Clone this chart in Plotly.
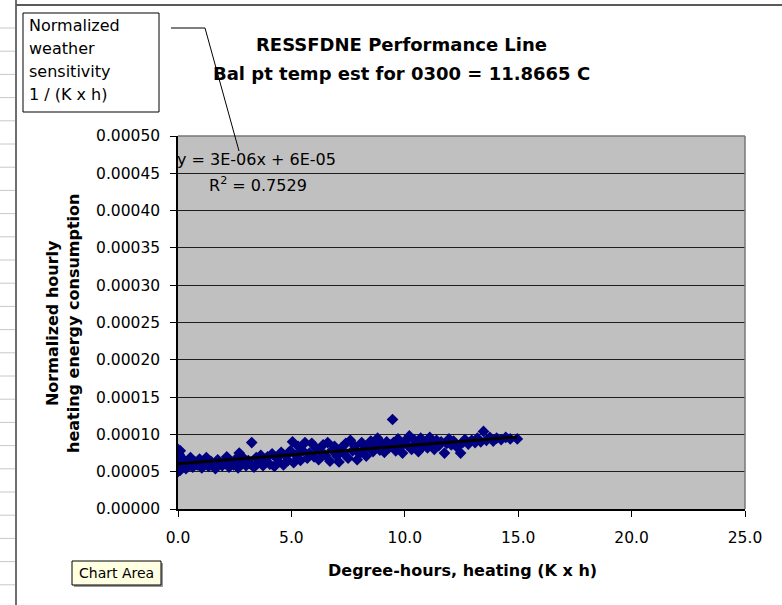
import numpy as np
import plotly.graph_objects as go

# Degree-hours of heating (K x h) for each hourly observation
degree_hours = [
    0.0, 0.0, 0.0, 0.0, 0.0, 0.0, 0.0, 0.0, 0.0, 0.0, 0.0,
    0.05, 0.05, 0.05, 0.05, 0.1, 0.1, 0.1, 0.1,
    0.2, 0.25, 0.35, 0.45, 0.55, 0.65, 0.75, 0.85, 0.95, 1.05, 1.15, 1.25, 1.35, 1.45,
    1.55, 1.65, 1.75, 1.85, 1.95, 2.05, 2.15, 2.25, 2.35, 2.45, 2.55, 2.65, 2.7, 2.8,
    2.9, 3.0, 3.1, 3.2, 3.25,
    3.35, 3.45, 3.55, 3.65, 3.75, 3.85, 3.95, 4.05, 4.15, 4.25, 4.35, 4.45, 4.55, 4.65,
    4.75, 4.85, 4.95, 5.05, 5.1,
    5.2, 5.3, 5.4, 5.5, 5.6, 5.7, 5.8, 5.9, 6.0, 6.1, 6.2, 6.3, 6.4, 6.5, 6.6, 6.7,
    6.8, 6.9, 7.0, 7.1, 7.2, 7.3, 7.4, 7.5, 7.6, 7.7, 7.8, 7.9, 8.0, 8.1, 8.2, 8.3,
    8.4, 8.5, 8.6, 8.7, 8.8, 8.9, 9.0, 9.1, 9.2, 9.3, 9.4, 9.46,
    9.5, 9.6, 9.7, 9.8, 9.9, 10.0, 10.1, 10.2, 10.3, 10.4, 10.5, 10.6, 10.7, 10.8,
    10.9, 11.0, 11.1, 11.2, 11.3, 11.4, 11.5, 11.6, 11.75, 11.85, 11.95, 12.05, 12.15,
    12.3, 12.46, 12.55, 12.65, 12.8, 12.95, 13.1, 13.2, 13.35, 13.47, 13.6, 13.75,
    13.9, 14.05, 14.25, 14.45, 14.65, 14.96,
]

# Normalized hourly heating energy consumption, in units of 1E-05
consumption_e5 = [
    5.0, 5.3, 5.6, 5.9, 6.2, 6.5, 6.8, 7.1, 7.4, 7.7, 8.0,
    5.5, 6.0, 6.7, 7.3, 5.2, 6.3, 7.0, 7.8,
    5.8, 6.6, 5.4, 6.1, 6.9, 5.6, 6.3, 5.9, 6.7, 5.5, 6.2, 6.9, 5.7, 6.4,
    6.0, 5.4, 6.6, 6.1, 5.8, 6.5, 7.0, 5.6, 6.3, 5.9, 6.7, 5.5, 7.5, 6.2,
    6.8, 5.8, 6.5, 6.0, 8.9,
    5.6, 6.9, 6.2, 7.2, 5.8, 6.6, 7.0, 6.0, 7.4, 5.7, 6.8, 6.3, 7.6, 5.9,
    7.1, 6.5, 7.8, 9.0, 6.2,
    7.2, 8.4, 6.5, 7.8, 8.9, 6.8, 7.5, 8.8, 7.0, 8.1, 6.6, 7.7, 8.6, 7.2, 8.9, 6.4,
    7.9, 8.4, 7.1, 6.3, 8.2, 7.5, 8.8, 6.8, 9.2, 7.8, 8.4, 6.6, 7.4, 8.9, 8.0, 7.1,
    8.6, 9.1, 7.7, 8.3, 9.5, 7.9, 8.7, 7.6, 9.0, 8.2, 8.6, 12.0,
    8.9, 7.8, 9.4, 8.3, 7.5, 9.1, 8.6, 9.8, 8.0, 9.3, 8.7, 7.7, 9.5, 8.4,
    9.0, 8.2, 9.6, 8.8, 8.0, 9.2, 8.5, 9.0, 7.5, 8.8, 9.4, 8.6, 9.1,
    8.3, 7.5, 8.9, 9.3, 8.7, 9.2, 8.9, 9.5, 9.0, 10.4, 9.2, 9.6,
    9.1, 9.5, 9.3, 9.6, 9.4, 9.4,
]

y_ticks = [0.0, 0.00005, 0.0001, 0.00015, 0.0002, 0.00025, 0.0003, 0.00035, 0.0004, 0.00045, 0.0005]
x_ticks = [0.0, 5.0, 10.0, 15.0, 20.0, 25.0]

title_lines = ["RESSFDNE Performance Line", "Bal pt temp est for 0300 = 11.8665 C"]
note_lines = ["Normalized", "weather", "sensitivity", "1 / (K x h)"]
equation_text = "y = 3E-06x + 6E-05"
r2_text = "R<sup>2</sup> = 0.7529"

x = np.array(degree_hours)
y = np.array(consumption_e5) * 1e-5

# Linear trendline through the observations
slope, intercept = np.polyfit(x, y, 1)
trend_x = np.array([x.min(), x.max()])
trend_y = slope * trend_x + intercept

W, H = 782, 605
PL, PR, PT, PB = 178, 745, 136, 509


def fx(px):
    return (px - PL) / (PR - PL)


def fy(py):
    return (PB - py) / (PB - PT)


FONT = "DejaVu Sans"

fig = go.Figure()
fig.add_trace(go.Scatter(
    x=x, y=y, mode="markers",
    marker=dict(symbol="diamond", size=9, color="#000080", line=dict(width=0)),
    hoverinfo="skip", showlegend=False,
))
fig.add_trace(go.Scatter(
    x=trend_x, y=trend_y, mode="lines",
    line=dict(color="black", width=3),
    hoverinfo="skip", showlegend=False,
))

shapes = []
# worksheet frame behind the chart
shapes.append(dict(type="line", xref="paper", yref="paper",
                   x0=fx(16), x1=fx(16), y0=fy(0), y1=fy(H),
                   line=dict(color="#6e6e6e", width=2)))
shapes.append(dict(type="line", xref="paper", yref="paper",
                   x0=fx(16), x1=fx(W), y0=fy(5), y1=fy(5),
                   line=dict(color="#5a5a5a", width=2)))
row_y = 28.0
while row_y < H:
    shapes.append(dict(type="line", xref="paper", yref="paper",
                       x0=fx(0), x1=fx(15), y0=fy(row_y), y1=fy(row_y),
                       line=dict(color="#c8c8c8", width=1)))
    row_y += 23.2

# plot-area border (top and right)
shapes.append(dict(type="line", xref="paper", yref="paper", x0=0, x1=1, y0=1, y1=1,
                   line=dict(color="#777777", width=1.5)))
shapes.append(dict(type="line", xref="paper", yref="paper", x0=1, x1=1, y0=0, y1=1,
                   line=dict(color="#777777", width=1.5)))

# text box with leader line
shapes.append(dict(type="rect", xref="paper", yref="paper",
                   x0=fx(23), x1=fx(159), y0=fy(13), y1=fy(112),
                   fillcolor="white", line=dict(color="black", width=1)))
shapes.append(dict(type="path", xref="paper", yref="paper",
                   path=f"M {fx(171)},{fy(28)} L {fx(205)},{fy(28)} L {fx(239)},{fy(151)}",
                   line=dict(color="black", width=1)))

# tooltip box with a soft drop shadow
shapes.append(dict(type="rect", xref="paper", yref="paper",
                   x0=fx(74), x1=fx(163), y0=fy(563), y1=fy(587),
                   fillcolor="#9a9a9a", line=dict(width=0)))
shapes.append(dict(type="rect", xref="paper", yref="paper",
                   x0=fx(72), x1=fx(161), y0=fy(561), y1=fy(585),
                   fillcolor="#ffffe1", line=dict(color="black", width=1)))

annotations = []
for text, cy in zip(title_lines, [44, 73]):
    annotations.append(dict(text=f"<b>{text}</b>", x=fx(401), y=fy(cy), xref="paper", yref="paper",
                            xanchor="center", yanchor="middle", showarrow=False,
                            font=dict(family=FONT, size=18, color="black")))
for text, cy in zip(note_lines, [25, 48, 71, 95]):
    annotations.append(dict(text=text, x=fx(27), y=fy(cy), xref="paper", yref="paper",
                            xanchor="left", yanchor="middle", showarrow=False,
                            font=dict(family=FONT, size=16, color="black")))
annotations.append(dict(text=equation_text, x=fx(175), y=fy(159), xref="paper", yref="paper",
                        xanchor="left", yanchor="middle", showarrow=False,
                        font=dict(family=FONT, size=16, color="black")))
annotations.append(dict(text=r2_text, x=fx(207), y=fy(184), xref="paper", yref="paper",
                        xanchor="left", yanchor="middle", showarrow=False,
                        font=dict(family=FONT, size=16, color="black")))
annotations.append(dict(text="<b>Normalized hourly<br>heating energy consumption</b>",
                        x=fx(63), y=fy(324), xref="paper", yref="paper", textangle=-90,
                        xanchor="center", yanchor="middle", showarrow=False,
                        font=dict(family=FONT, size=16, color="black")))
annotations.append(dict(text="<b>Degree-hours, heating (K x h)</b>",
                        x=fx(462), y=fy(570), xref="paper", yref="paper",
                        xanchor="center", yanchor="middle", showarrow=False,
                        font=dict(family=FONT, size=16, color="black")))
annotations.append(dict(text="Chart Area", x=fx(116.5), y=fy(573), xref="paper", yref="paper",
                        xanchor="center", yanchor="middle", showarrow=False,
                        font=dict(family=FONT, size=14, color="black")))

fig.update_layout(
    width=W, height=H,
    margin=dict(l=PL, r=W - PR, t=PT, b=H - PB, pad=0),
    paper_bgcolor="white", plot_bgcolor="#c0c0c0",
    font=dict(family=FONT, color="black"),
    shapes=shapes, annotations=annotations,
    showlegend=False,
)
fig.update_xaxes(
    range=[0, 25], tickvals=x_ticks, ticktext=[f"{v:.1f}" for v in x_ticks],
    showgrid=False, zeroline=False,
    showline=True, linecolor="black", linewidth=1.5,
    ticks="outside", ticklen=6, tickcolor="black", tickwidth=1,
    tickfont=dict(family=FONT, size=15.5, color="black"),
    ticklabelstandoff=8,
)
fig.update_yaxes(
    range=[0, 0.0005], tickvals=y_ticks, ticktext=[f"{v:.5f}" for v in y_ticks],
    showgrid=True, gridcolor="#1e1e1e", gridwidth=1, zeroline=False,
    showline=True, linecolor="black", linewidth=1.5,
    ticks="outside", ticklen=6, tickcolor="black", tickwidth=1,
    tickfont=dict(family=FONT, size=15.5, color="black"),
    ticklabelstandoff=7,
)

fig.write_html("out.html")
